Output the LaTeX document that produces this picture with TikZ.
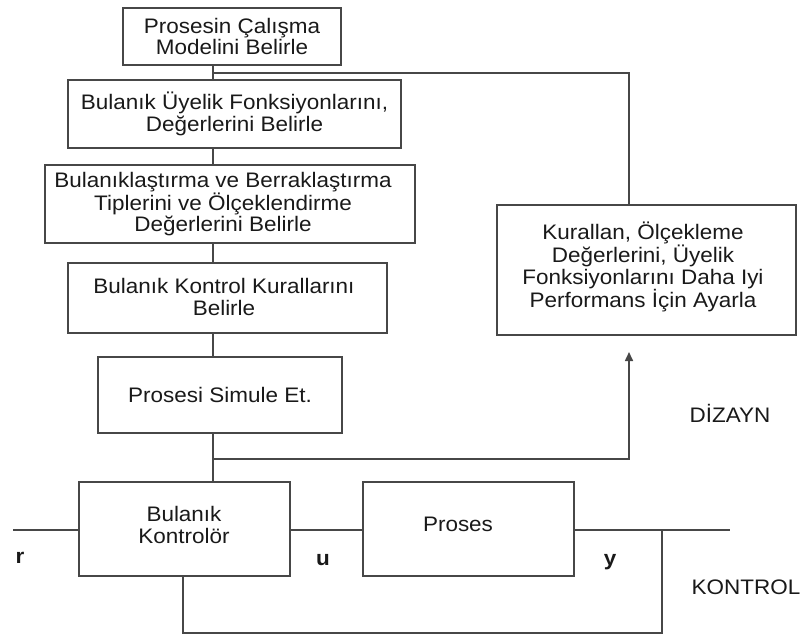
\documentclass[tikz,border=0pt]{standalone}
\usepackage{fontspec}
\setmainfont{Liberation Sans}[FakeStretch=1.07]
\usetikzlibrary{arrows.meta}
\begin{document}
\begin{tikzpicture}[x=1pt,y=-1pt,
  line/.style={draw=black!72,line width=1.6pt},
  box/.style={line,rectangle,inner sep=0pt,align=center,text=black!90,
    font=\fontsize{21}{21.5}\selectfont},
  lbl/.style={text=black!90,inner sep=0pt,align=center,font=\fontsize{21}{21.5}\selectfont},
  sig/.style={lbl,font=\fontsize{21}{21.5}\selectfont\bfseries}]
\useasboundingbox (0,0) rectangle (802,634);
\node[box,minimum width=218pt,minimum height=57pt] (B1) at (232,36.5) {Prosesin Çalışma\\Modelini Belirle};
\node[box,minimum width=333pt,minimum height=68pt] (B2) at (234.5,114) {Bulanık Üyelik Fonksiyonlarını,\\Değerlerini Belirle};
\node[box,minimum width=370pt,minimum height=78pt] (B3) at (230,204) {};
\node[lbl] (B3t) at (223,204) {Bulanıklaştırma ve Berraklaştırma\\Tiplerini ve Ölçeklendirme\\Değerlerini Belirle};
\node[box,minimum width=319pt,minimum height=70pt] (B4) at (227.5,298) {};
\node[lbl] (B4t) at (224,297) {Bulanık Kontrol Kurallarını\\Belirle};
\node[box,minimum width=244pt,minimum height=76pt] (B5) at (220,395) {Prosesi Simule Et.};
\node[box,minimum width=299pt,minimum height=130pt] (R) at (646.5,270) {};
\node[lbl] (Rt) at (643,267) {Kurallan, Ölçekleme\\Değerlerini, Üyelik\\Fonksiyonlarını Daha Iyi\\Performans İçin Ayarla};
\node[box,minimum width=211pt,minimum height=94pt] (BK) at (184.5,529) {};
\node[lbl] (BKt) at (184,525) {Bulanık\\Kontrolör};
\node[box,minimum width=211pt,minimum height=94pt] (P) at (468.5,529) {};
\node[lbl] (Pt) at (458,524) {Proses};
\node[sig] (r) at (20,558) {r};
\node[sig] (u) at (323,560) {u};
\node[sig] (yl) at (610,562) {y};
\node[lbl] (kon) at (746,587) {KONTROL};
\node[lbl] (diz) at (730,413) {DİZAYN};
\coordinate (sp) at (213,0);
\coordinate (rx) at (629,0);
\coordinate (fb) at (183,0);
\coordinate (fb2) at (662,0);
\coordinate (top) at (213,73);
\coordinate (mid) at (213,459);
\coordinate (tip) at (629,352);
\coordinate (sin) at (13,530);
\coordinate (sout) at (730,530);
\coordinate (bot) at (0,633);
\draw[line] (sp |- B1.south) -- (sp |- B2.north);
\draw[line] (top) -- (rx |- top) -- (rx |- R.north);
\draw[line] (sp |- B2.south) -- (sp |- B3.north);
\draw[line] (sp |- B3.south) -- (sp |- B4.north);
\draw[line] (sp |- B4.south) -- (sp |- B5.north);
\draw[line] (sp |- B5.south) -- (sp |- BK.north);
\draw[line,-{Triangle[length=9pt,width=8pt]}] (mid) -- (rx |- mid) -- (tip);
\draw[line] (sin) -- (BK.west |- sin);
\draw[line] (BK.east |- sin) -- (P.west |- sin);
\draw[line] (P.east |- sin) -- (sout);
\draw[line] (fb |- BK.south) -- (fb |- bot) -- (fb2 |- bot) -- (fb2 |- sin);
\end{tikzpicture}
\end{document}
